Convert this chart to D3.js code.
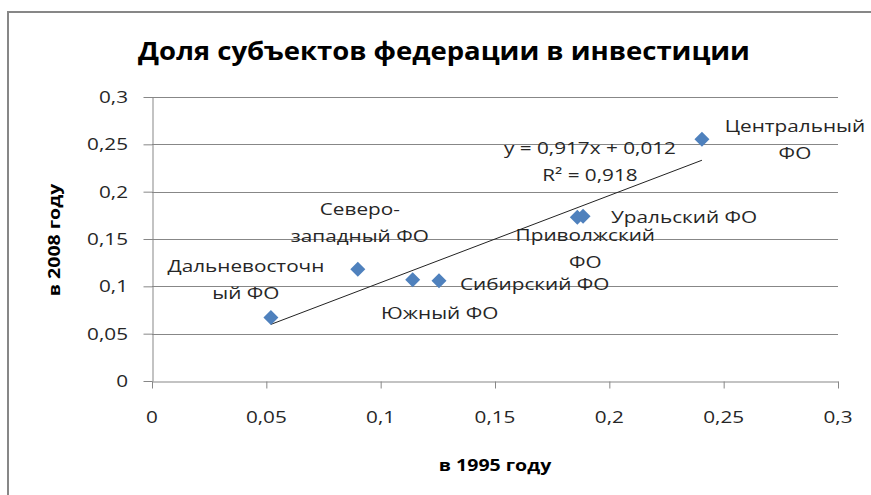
<!DOCTYPE html>
<html>
<head>
<meta charset="utf-8">
<script src="https://cdn.jsdelivr.net/npm/d3@7"></script>
<style>
body { margin: 0; background: #fff; }
text { font-family: "Open Sans", sans-serif; }
</style>
</head>
<body>
<div id="chart"></div>
<script>
// data
var regions = ["Дальневосточный ФО", "Северо-западный ФО", "Южный ФО", "Сибирский ФО",
               "Приволжский ФО", "Уральский ФО", "Центральный ФО"];
var share1995 = [0.052, 0.090, 0.114, 0.1255, 0.186, 0.1885, 0.2405];
var share2008 = [0.067, 0.118, 0.107, 0.106, 0.173, 0.174, 0.2555];
var labelLines = [["Дальневосточн", "ый ФО"], ["Северо-", "западный ФО"], ["Южный ФО"], ["Сибирский ФО"],
                  ["Приволжский", "ФО"], ["Уральский ФО"], ["Центральный", "ФО"]];
var tickValues = [0, 0.05, 0.1, 0.15, 0.2, 0.25, 0.3];
var trendText = ["y = 0,917x + 0,012", "R² = 0,918"];
var titleText = "Доля субъектов федерации в инвестиции";
var xTitle = "в 1995 году";
var yTitle = "в 2008 году";

// where each label sits next to its point: anchor, dx, dy (first baseline)
var labelPlace = [["middle", -25, -46], ["middle", 2, -54], ["middle", 27, 39], ["start", 21, 9],
                  ["middle", 8, 24], ["start", 28, 7], ["middle", 93, -7]];

var w = 871, h = 495;
var SX = 1.22; // the original text is a bit wider than the fonts here
var fmt = function (v) { return String(v).replace(".", ","); };

var svg = d3.select("#chart").append("svg")
    .attr("width", w)
    .attr("height", h);

// chart frame
svg.append("rect")
    .attr("x", 8).attr("y", 12)
    .attr("width", w + 10).attr("height", h)
    .attr("fill", "none")
    .attr("stroke", "#878787")
    .attr("stroke-width", 2);

var x = d3.scaleLinear().domain([0, 0.3]).range([152, 838]);
var y = d3.scaleLinear().domain([0, 0.3]).range([381, 97]);

function put(g, px, py, str, anchor, sx) {
    return g.append("text")
        .attr("transform", "translate(" + px + "," + py + ") scale(" + (sx || SX) + ",1)")
        .attr("text-anchor", anchor || "middle")
        .text(str);
}

// gridlines
svg.append("g").selectAll("line")
    .data(tickValues.slice(1))
    .enter().append("line")
    .attr("x1", x(0)).attr("x2", x(0.3))
    .attr("y1", d => Math.round(y(d)) + 0.5).attr("y2", d => Math.round(y(d)) + 0.5)
    .attr("stroke", "#878787");

// axes (lines and ticks only, labels drawn below)
svg.append("g")
    .attr("transform", "translate(" + (x(0) + 0.5) + ",0)")
    .call(d3.axisLeft(y).tickValues(tickValues).tickSize(9).tickSizeOuter(0).tickFormat(""));
svg.append("g")
    .attr("transform", "translate(0," + (Math.round(y(0)) + 0.5) + ")")
    .call(d3.axisBottom(x).tickValues(tickValues).tickSize(7).tickSizeOuter(0).tickFormat(""));
svg.selectAll(".domain, .tick line").attr("stroke", "#878787");

var tickG = svg.append("g").attr("font-size", 17).attr("fill", "#262626");
tickValues.forEach(function (v) {
    put(tickG, 128, y(v) + 6, fmt(v), "end");
    put(tickG, x(v), 423, fmt(v), "middle");
});

// title and axis titles
var titleG = svg.append("g").attr("font-weight", "bold").attr("fill", "#000");
put(titleG, 444, 60, titleText, "middle", 1.1).attr("font-size", 25);
put(titleG, 495, 471, xTitle).attr("font-size", 16);
titleG.append("text")
    .attr("transform", "translate(60,240) rotate(-90) scale(" + SX + ",1)")
    .attr("text-anchor", "middle")
    .attr("font-size", 16)
    .text(yTitle);

// trendline from a least squares fit of the points
var mx = d3.mean(share1995), my = d3.mean(share2008);
var sxy = d3.sum(share1995, (v, i) => (v - mx) * (share2008[i] - my));
var sxx = d3.sum(share1995, v => (v - mx) * (v - mx));
var slope = sxy / sxx, icpt = my - slope * mx;
var x0 = d3.min(share1995), x1 = d3.max(share1995);
svg.append("line")
    .attr("x1", x(x0)).attr("y1", y(slope * x0 + icpt))
    .attr("x2", x(x1)).attr("y2", y(slope * x1 + icpt))
    .attr("stroke", "#222")
    .attr("stroke-width", 1);

var eqG = svg.append("g").attr("font-size", 17).attr("fill", "#262626");
trendText.forEach(function (t, i) {
    put(eqG, x(x1) - 112, y(slope * x1 + icpt) - 6 + i * 27, t);
});

// points
var pts = regions.map((r, i) => ({ name: r, a: share1995[i], b: share2008[i], lines: labelLines[i], place: labelPlace[i] }));
svg.append("g").selectAll("path")
    .data(pts)
    .enter().append("path")
    .attr("d", d => {
        var cx = x(d.a), cy = y(d.b), r = 7.5;
        return "M" + cx + "," + (cy - r) + "L" + (cx + r) + "," + cy + "L" + cx + "," + (cy + r) + "L" + (cx - r) + "," + cy + "Z";
    })
    .attr("fill", "#4f81bd");

var labG = svg.append("g").attr("font-size", 17).attr("fill", "#262626");
pts.forEach(function (d) {
    d.lines.forEach(function (ln, j) {
        put(labG, x(d.a) + d.place[1], y(d.b) + d.place[2] + j * 27, ln, d.place[0]);
    });
});
</script>
</body>
</html>
